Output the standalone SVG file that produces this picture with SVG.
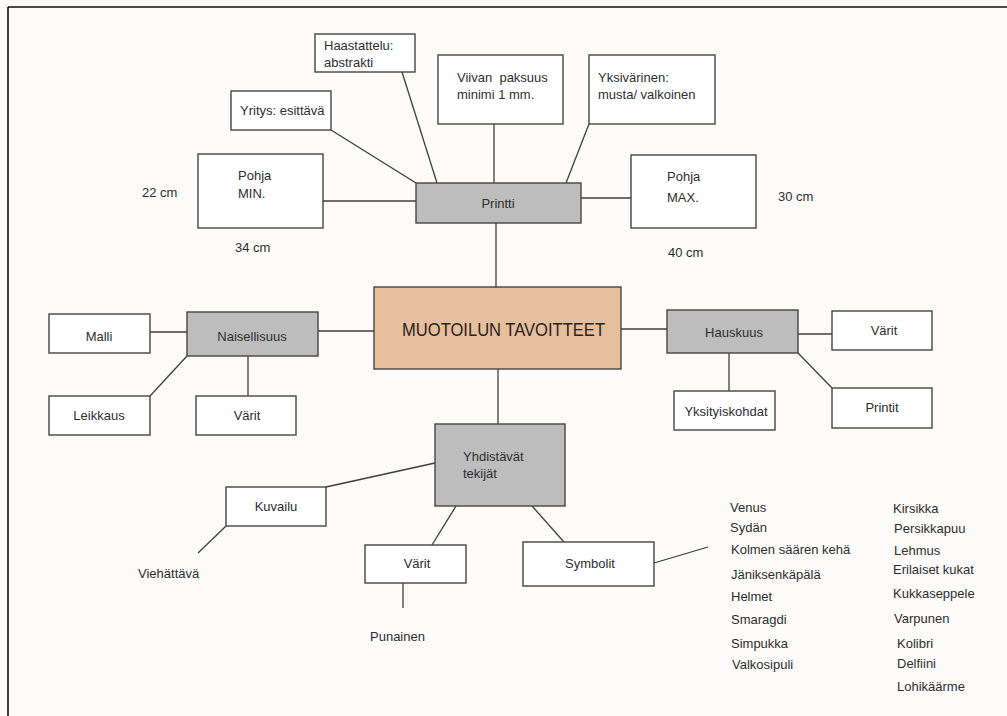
<svg xmlns="http://www.w3.org/2000/svg" width="1007" height="716" viewBox="0 0 1007 716">
  <style>
    text { font-family: "Liberation Sans", Arial, sans-serif; font-size: 13px; fill: #2e2e2e; }
    .c { text-anchor: middle; }
    .box { fill: #ffffff; stroke: #454545; stroke-width: 1.4; }
    .hub { fill: #bdbdbd; stroke: #454545; stroke-width: 1.4; }
    .core { fill: #e6bf9e; stroke: #454545; stroke-width: 1.4; }
    .title { font-size: 18px; fill: #2a2320; }
    #connectors line { stroke: #3e3e3e; stroke-width: 1.3; }
  </style>

  <rect x="0" y="0" width="1007" height="716" fill="#fcfbf9"/>
  <!-- page frame: top and left edges -->
  <line x1="8" y1="7" x2="1007" y2="7" stroke="#111" stroke-width="1.6"/>
  <line x1="8" y1="7" x2="8" y2="716" stroke="#111" stroke-width="1.6"/>

  <g id="connectors">
    <line x1="331" y1="130" x2="416" y2="183"/>
    <line x1="402" y1="72" x2="437" y2="183"/>
    <line x1="494" y1="124" x2="494" y2="183"/>
    <line x1="589" y1="124" x2="566" y2="183"/>
    <line x1="323" y1="201" x2="416" y2="201"/>
    <line x1="581" y1="198" x2="631" y2="198"/>
    <line x1="496" y1="223" x2="496" y2="287"/>
    <line x1="150" y1="332" x2="187" y2="332"/>
    <line x1="318" y1="331" x2="374" y2="331"/>
    <line x1="150" y1="396" x2="187" y2="356"/>
    <line x1="248" y1="356" x2="248" y2="396"/>
    <line x1="621" y1="329" x2="667" y2="329"/>
    <line x1="798" y1="334" x2="832" y2="334"/>
    <line x1="729" y1="353" x2="729" y2="391"/>
    <line x1="798" y1="353" x2="832" y2="388"/>
    <line x1="498" y1="369" x2="498" y2="424"/>
    <line x1="326" y1="487" x2="435" y2="463"/>
    <line x1="226" y1="526" x2="198" y2="553"/>
    <line x1="456" y1="506" x2="432" y2="545"/>
    <line x1="403" y1="583" x2="403" y2="608"/>
    <line x1="532" y1="506" x2="564" y2="542"/>
    <line x1="654" y1="563" x2="708" y2="547"/>
  </g>

  <g id="printti">
    <rect class="hub" x="416" y="183" width="165" height="40"/>
    <text class="c" x="498" y="208">Printti</text>
  </g>
  <g id="yritys">
    <rect class="box" x="231" y="91" width="100" height="39"/>
    <text x="240" y="115">Yritys: esittävä</text>
  </g>
  <g id="haastattelu">
    <rect class="box" x="315" y="34" width="100" height="38"/>
    <text x="324" y="50">Haastattelu:</text>
    <text x="324" y="67">abstrakti</text>
  </g>
  <g id="viivan">
    <rect class="box" x="438" y="55" width="125" height="69"/>
    <text x="457" y="82" xml:space="preserve">Viivan  paksuus</text>
    <text x="457" y="99">minimi 1 mm.</text>
  </g>
  <g id="yksivarinen">
    <rect class="box" x="589" y="55" width="126" height="69"/>
    <text x="598" y="82">Yksivärinen:</text>
    <text x="598" y="99">musta/ valkoinen</text>
  </g>
  <g id="pohja-min">
    <rect class="box" x="198" y="154" width="125" height="74"/>
    <text x="238" y="180">Pohja</text>
    <text x="238" y="198">MIN.</text>
  </g>
  <text x="142" y="197">22 cm</text>
  <text x="235" y="252">34 cm</text>
  <g id="pohja-max">
    <rect class="box" x="631" y="155" width="125" height="73"/>
    <text x="667" y="181">Pohja</text>
    <text x="667" y="202">MAX.</text>
  </g>
  <text x="778" y="201">30 cm</text>
  <text x="668" y="257">40 cm</text>

  <g id="muotoilun">
    <rect class="core" x="374" y="287" width="247" height="82"/>
    <text class="title" x="402" y="336" textLength="203" lengthAdjust="spacingAndGlyphs">MUOTOILUN TAVOITTEET</text>
  </g>

  <g id="naisellisuus">
    <rect class="hub" x="187" y="312" width="131" height="44"/>
    <text class="c" x="252" y="341">Naisellisuus</text>
  </g>
  <g id="malli">
    <rect class="box" x="49" y="314" width="101" height="39"/>
    <text class="c" x="99" y="341">Malli</text>
  </g>
  <g id="leikkaus">
    <rect class="box" x="49" y="396" width="101" height="39"/>
    <text class="c" x="99" y="420">Leikkaus</text>
  </g>
  <g id="varit-n">
    <rect class="box" x="196" y="396" width="100" height="39"/>
    <text class="c" x="247" y="420">Värit</text>
  </g>

  <g id="hauskuus">
    <rect class="hub" x="667" y="310" width="131" height="43"/>
    <text class="c" x="734" y="337">Hauskuus</text>
  </g>
  <g id="varit-h">
    <rect class="box" x="832" y="311" width="100" height="39"/>
    <text class="c" x="884" y="335">Värit</text>
  </g>
  <g id="yksityiskohdat">
    <rect class="box" x="674" y="391" width="101" height="39"/>
    <text class="c" x="726" y="416">Yksityiskohdat</text>
  </g>
  <g id="printit">
    <rect class="box" x="832" y="388" width="100" height="40"/>
    <text class="c" x="882" y="412">Printit</text>
  </g>

  <g id="yhdistavat">
    <rect class="hub" x="435" y="424" width="130" height="82"/>
    <text x="463" y="461">Yhdistävät</text>
    <text x="463" y="478">tekijät</text>
  </g>
  <g id="kuvailu">
    <rect class="box" x="226" y="487" width="100" height="39"/>
    <text class="c" x="276" y="511">Kuvailu</text>
  </g>
  <text x="138" y="578">Viehättävä</text>
  <g id="varit-y">
    <rect class="box" x="365" y="545" width="101" height="38"/>
    <text class="c" x="417" y="568">Värit</text>
  </g>
  <text x="370" y="641">Punainen</text>
  <g id="symbolit">
    <rect class="box" x="523" y="542" width="131" height="44"/>
    <text class="c" x="590" y="568">Symbolit</text>
  </g>

  <g id="symbol-list">
    <text x="730" y="512">Venus</text>
    <text x="730" y="532">Sydän</text>
    <text x="731" y="554">Kolmen säären kehä</text>
    <text x="731" y="579">Jäniksenkäpälä</text>
    <text x="731" y="601">Helmet</text>
    <text x="731" y="624">Smaragdi</text>
    <text x="731" y="648">Simpukka</text>
    <text x="732" y="669">Valkosipuli</text>
    <text x="893" y="513">Kirsikka</text>
    <text x="894" y="533">Persikkapuu</text>
    <text x="894" y="555">Lehmus</text>
    <text x="893" y="574">Erilaiset kukat</text>
    <text x="893" y="598">Kukkaseppele</text>
    <text x="894" y="623">Varpunen</text>
    <text x="897" y="648">Kolibri</text>
    <text x="897" y="668">Delfiini</text>
    <text x="897" y="691">Lohikäärme</text>
  </g>
</svg>
